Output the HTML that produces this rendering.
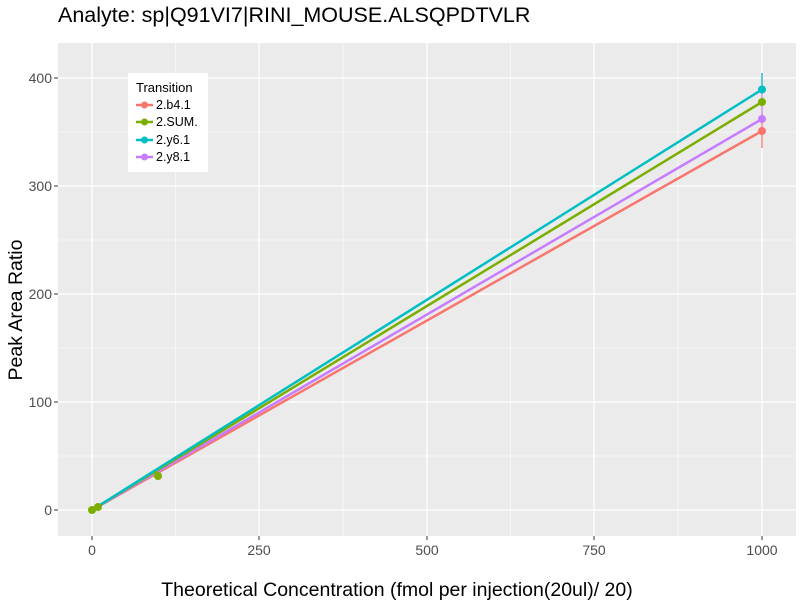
<!DOCTYPE html>
<html><head><style>body{margin:0;background:#fff}</style></head><body>
<svg width="800" height="600" xmlns="http://www.w3.org/2000/svg" font-family="Liberation Sans, sans-serif">
<rect width="800" height="600" fill="#fff"/>
<text x="58" y="22" font-size="21.5" fill="#000">Analyte: sp|Q91VI7|RINI_MOUSE.ALSQPDTVLR</text>
<rect x="58" y="43" width="738" height="493" fill="#ebebeb"/>
<g stroke="#fff" stroke-width="0.6">
<line x1="58" x2="796" y1="456" y2="456"/><line x1="58" x2="796" y1="348" y2="348"/><line x1="58" x2="796" y1="240" y2="240"/><line x1="58" x2="796" y1="132" y2="132"/>
<line y1="43" y2="536" x1="175.5" x2="175.5"/><line y1="43" y2="536" x1="343" x2="343"/><line y1="43" y2="536" x1="510.5" x2="510.5"/><line y1="43" y2="536" x1="678" x2="678"/>
</g>
<g stroke="#fff" stroke-width="1.3">
<line x1="58" x2="796" y1="510" y2="510"/><line x1="58" x2="796" y1="402" y2="402"/><line x1="58" x2="796" y1="294" y2="294"/><line x1="58" x2="796" y1="186" y2="186"/><line x1="58" x2="796" y1="78" y2="78"/>
<line y1="43" y2="536" x1="92" x2="92"/><line y1="43" y2="536" x1="259" x2="259"/><line y1="43" y2="536" x1="427" x2="427"/><line y1="43" y2="536" x1="594" x2="594"/><line y1="43" y2="536" x1="762" x2="762"/>
</g>
<g stroke-width="2.5">
<line x1="92" y1="510" x2="762" y2="131" stroke="#f8766d"/>
<line x1="92" y1="510" x2="762" y2="119" stroke="#c77cff"/>
<line x1="92" y1="510" x2="762" y2="102" stroke="#7cae00"/>
<line x1="92" y1="510" x2="762" y2="89.5" stroke="#00bfc4"/>
</g>
<line x1="762" x2="762" y1="112" y2="148" stroke="#f8766d" stroke-width="1.2"/>
<line x1="762" x2="762" y1="73" y2="120" stroke="#c77cff" stroke-width="1.2"/>
<line x1="762" x2="762" y1="73" y2="90" stroke="#00bfc4" stroke-width="1.2"/>
<circle cx="762" cy="131" r="4" fill="#f8766d"/><circle cx="762" cy="119" r="4" fill="#c77cff"/><circle cx="762" cy="102" r="4" fill="#7cae00"/><circle cx="762" cy="89.5" r="4" fill="#00bfc4"/>
<circle cx="92" cy="510" r="4" fill="#7cae00"/><circle cx="98" cy="507" r="4" fill="#7cae00"/><circle cx="158" cy="476" r="4" fill="#7cae00"/>
<g font-size="14" fill="#4d4d4d" text-anchor="end">
<text x="52" y="515">0</text><text x="52" y="407">100</text><text x="52" y="299">200</text><text x="52" y="191">300</text><text x="52" y="83">400</text></g>
<g stroke="#333" stroke-width="1"><line x1="54" x2="58" y1="510" y2="510"/><line x1="54" x2="58" y1="402" y2="402"/><line x1="54" x2="58" y1="294" y2="294"/><line x1="54" x2="58" y1="186" y2="186"/><line x1="54" x2="58" y1="78" y2="78"/>
<line y1="536" y2="540" x1="92" x2="92"/><line y1="536" y2="540" x1="259" x2="259"/><line y1="536" y2="540" x1="427" x2="427"/><line y1="536" y2="540" x1="594" x2="594"/><line y1="536" y2="540" x1="762" x2="762"/></g>
<g font-size="14" fill="#4d4d4d" text-anchor="middle">
<text x="92" y="555">0</text><text x="259" y="555">250</text><text x="427" y="555">500</text><text x="594" y="555">750</text><text x="762" y="555">1000</text></g>
<text x="397" y="596" font-size="19.5" text-anchor="middle">Theoretical Concentration (fmol per injection(20ul)/ 20)</text>
<text transform="translate(22,310) rotate(-90)" font-size="19.5" text-anchor="middle">Peak Area Ratio</text>
<rect x="128" y="73" width="80" height="99" fill="#fff"/>
<text x="136" y="92" font-size="13">Transition</text>
<g font-size="12.5">
<line x1="136" x2="153" y1="105" y2="105" stroke="#f8766d" stroke-width="2.5"/><circle cx="144.5" cy="105" r="3.5" fill="#f8766d"/><text x="156" y="109">2.b4.1</text>
<line x1="136" x2="153" y1="122" y2="122" stroke="#7cae00" stroke-width="2.5"/><circle cx="144.5" cy="122" r="3.5" fill="#7cae00"/><text x="156" y="126">2.SUM.</text>
<line x1="136" x2="153" y1="140" y2="140" stroke="#00bfc4" stroke-width="2.5"/><circle cx="144.5" cy="140" r="3.5" fill="#00bfc4"/><text x="156" y="144">2.y6.1</text>
<line x1="136" x2="153" y1="157" y2="157" stroke="#c77cff" stroke-width="2.5"/><circle cx="144.5" cy="157" r="3.5" fill="#c77cff"/><text x="156" y="161">2.y8.1</text>
</g>
</svg>
</body></html>
